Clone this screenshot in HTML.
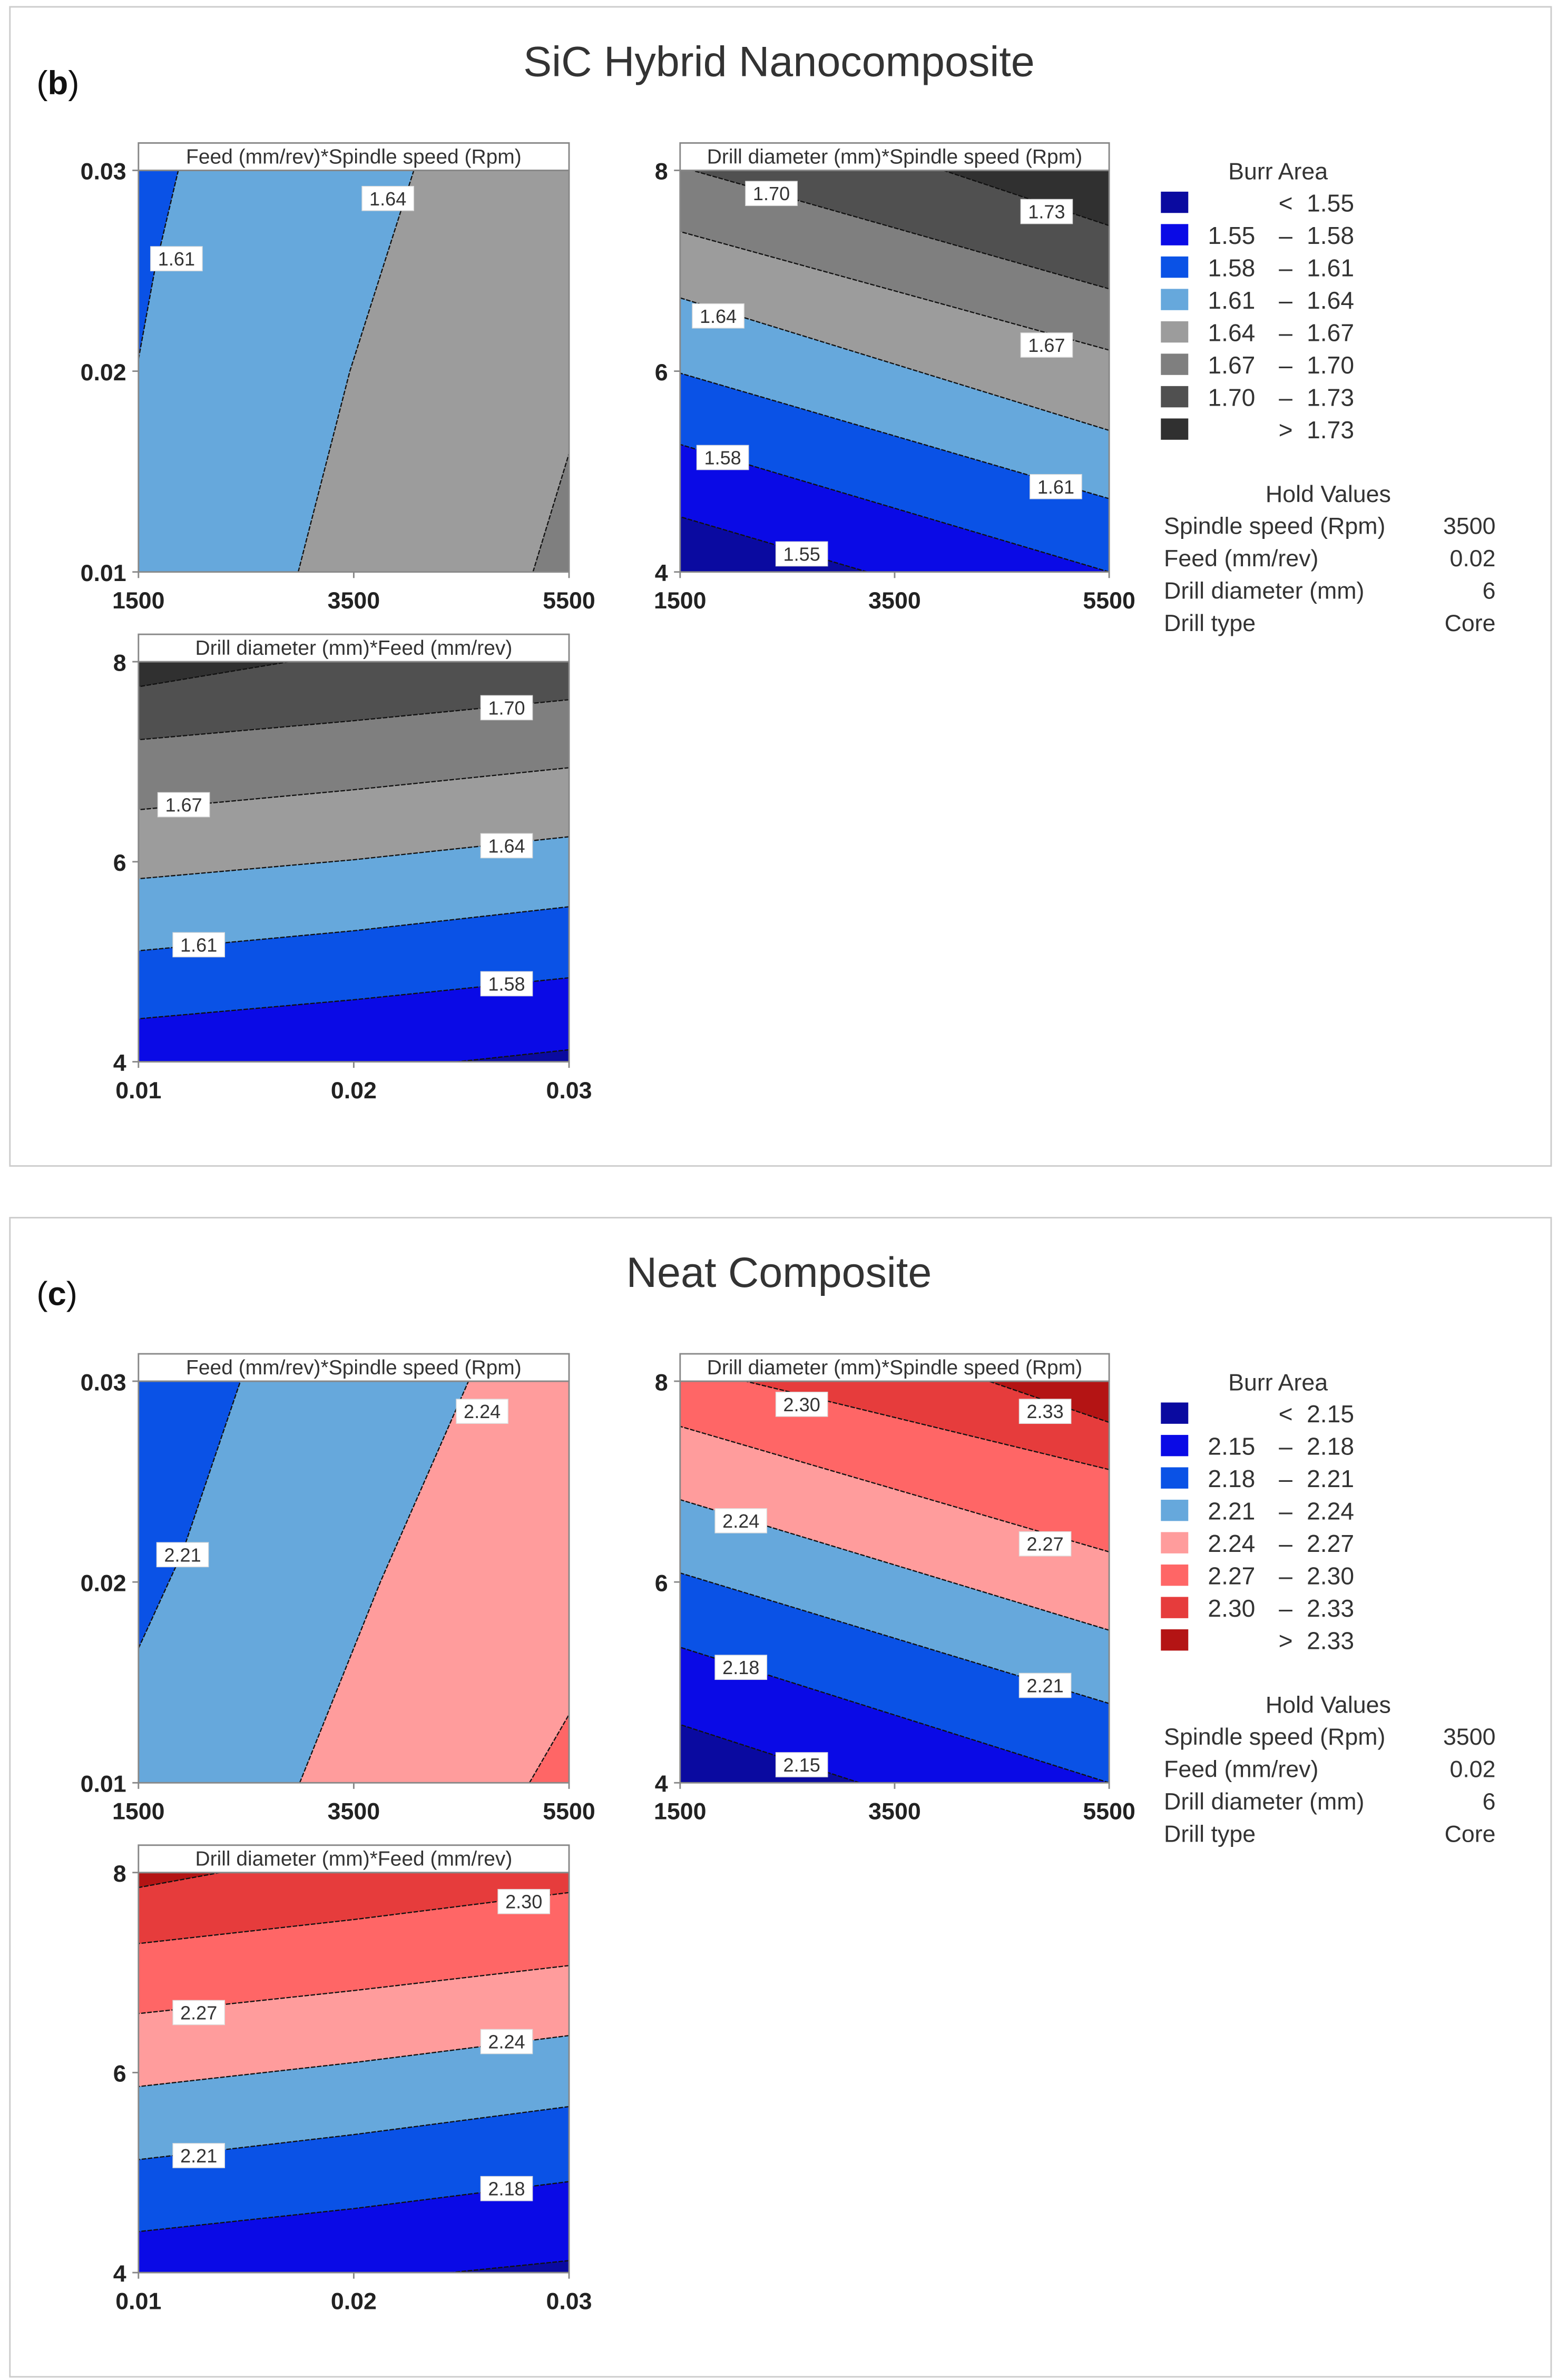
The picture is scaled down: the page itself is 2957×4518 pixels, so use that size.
<!DOCTYPE html>
<html><head><meta charset="utf-8"><style>
html,body{margin:0;padding:0;background:#fff;}
svg{display:block;}
text{font-family:"Liberation Sans","DejaVu Sans",sans-serif;}
</style></head><body>
<svg id="root" xmlns="http://www.w3.org/2000/svg" width="2957" height="4518" viewBox="0 0 1024 1564.6"></svg>
<script>
// ---- data ----
const levelsB = [1.55,1.58,1.61,1.64,1.67,1.70,1.73];
const levelsC = [2.15,2.18,2.21,2.24,2.27,2.30,2.33];
const colorsB = ['#0a0aa0','#0a0ae6','#0a52e6','#66a8dc','#9c9c9c','#7f7f7f','#505050','#303030'];
const colorsC = ['#0a0aa0','#0a0ae6','#0a52e6','#66a8dc','#ff9c9c','#ff6666','#e63c3c','#b41414'];
const spindleTicks = [1500,3500,5500];
const feedTicks = [0.01,0.02,0.03];
const diamTicks = [4,6,8];
// contour lines: level index, xs, ys (ordered so higher side is on the right-hand side)
const linesB1 = [
 {lv:2, xs:[1500,1650,1870], ys:[0.0206,0.025,0.03]},
 {lv:3, xs:[2984,3464,4058], ys:[0.01,0.02,0.03]},
 {lv:4, xs:[5165,5500], ys:[0.01,0.0159]}];
const linesB2 = [
 {lv:0, xs:[3245,1500], ys:[4.0,4.55]},
 {lv:1, xs:[5500,1500], ys:[4.0,5.27]},
 {lv:2, xs:[5500,1500], ys:[4.73,5.98]},
 {lv:3, xs:[5500,1500], ys:[5.41,6.73]},
 {lv:4, xs:[5500,1500], ys:[6.21,7.39]},
 {lv:5, xs:[5500,1613], ys:[6.82,8.0]},
 {lv:6, xs:[5500,3955], ys:[7.45,8.0]}];
const linesB3 = [
 {lv:0, xs:[0.03,0.0248], ys:[4.12,4.0]},
 {lv:1, xs:[0.03,0.02,0.01], ys:[4.84,4.62,4.43]},
 {lv:2, xs:[0.03,0.02,0.01], ys:[5.55,5.31,5.11]},
 {lv:3, xs:[0.03,0.02,0.01], ys:[6.25,6.02,5.83]},
 {lv:4, xs:[0.03,0.02,0.01], ys:[6.94,6.72,6.52]},
 {lv:5, xs:[0.03,0.02,0.01], ys:[7.62,7.41,7.22]},
 {lv:6, xs:[0.017,0.01], ys:[8.0,7.75]}];
const linesC1 = [
 {lv:2, xs:[1500,1910,2447], ys:[0.0167,0.0215,0.03]},
 {lv:3, xs:[2998,3747,4566], ys:[0.01,0.02,0.03]},
 {lv:4, xs:[5132,5500], ys:[0.01,0.0134]}];
const linesC2 = [
 {lv:0, xs:[3173,1500], ys:[4.0,4.58]},
 {lv:1, xs:[5500,1500], ys:[4.0,5.35]},
 {lv:2, xs:[5500,1500], ys:[4.79,6.09]},
 {lv:3, xs:[5500,1500], ys:[5.52,6.82]},
 {lv:4, xs:[5500,1500], ys:[6.30,7.55]},
 {lv:5, xs:[5500,2110], ys:[7.12,8.0]},
 {lv:6, xs:[5500,4378], ys:[7.59,8.0]}];
const linesC3 = [
 {lv:0, xs:[0.03,0.0245], ys:[4.12,4.0]},
 {lv:1, xs:[0.03,0.02,0.01], ys:[4.91,4.64,4.41]},
 {lv:2, xs:[0.03,0.02,0.01], ys:[5.66,5.38,5.13]},
 {lv:3, xs:[0.03,0.02,0.01], ys:[6.37,6.10,5.86]},
 {lv:4, xs:[0.03,0.02,0.01], ys:[7.07,6.82,6.59]},
 {lv:5, xs:[0.03,0.02,0.01], ys:[7.80,7.53,7.29]},
 {lv:6, xs:[0.0138,0.01], ys:[8.0,7.85]}];
const labelsB1 = [{t:'1.61',x:1853,y:0.0256},{t:'1.64',x:3817,y:0.0286}];
const labelsB2 = [{t:'1.70',x:2351,y:7.77},{t:'1.73',x:4917,y:7.59},{t:'1.64',x:1855,y:6.55},{t:'1.67',x:4917,y:6.26},{t:'1.58',x:1897,y:5.14},{t:'1.61',x:5003,y:4.85},{t:'1.55',x:2634,y:4.18}];
const labelsB3 = [{t:'1.70',x:0.0271,y:7.54},{t:'1.67',x:0.0121,y:6.57},{t:'1.64',x:0.0271,y:6.16},{t:'1.61',x:0.0128,y:5.17},{t:'1.58',x:0.0271,y:4.78}];
const labelsC1 = [{t:'2.21',x:1910,y:0.02136},{t:'2.24',x:4693,y:0.0285}];
const labelsC2 = [{t:'2.30',x:2634,y:7.77},{t:'2.33',x:4903,y:7.70},{t:'2.24',x:2067,y:6.61},{t:'2.27',x:4903,y:6.38},{t:'2.18',x:2067,y:5.15},{t:'2.21',x:4903,y:4.97},{t:'2.15',x:2634,y:4.18}];
const labelsC3 = [{t:'2.30',x:0.0279,y:7.71},{t:'2.27',x:0.0128,y:6.60},{t:'2.24',x:0.0271,y:6.31},{t:'2.21',x:0.0128,y:5.17},{t:'2.18',x:0.0271,y:4.84}];
const holdNames = ['Spindle speed (Rpm)','Feed (mm/rev)','Drill diameter (mm)','Drill type'];
const holdVals = ['3500','0.02','6','Core'];

// ---- drawing ----
const NS='http://www.w3.org/2000/svg';
const root=document.getElementById('root');
function mk(tag,attrs,parent,txt){const e=document.createElementNS(NS,tag);for(const k in attrs)e.setAttribute(k,attrs[k]);if(txt!==undefined)e.textContent=txt;(parent||root).appendChild(e);return e;}

function plot(g,px,py,W,H,xd,yd,xt,yt,lines,labels,colors,title,name){
  const sx=v=>px+(v-xd[0])/(xd[1]-xd[0])*W;
  const sy=v=>py+H-(v-yd[0])/(yd[1]-yd[0])*H;
  const pg=mk('g',{},g);
  
  
  const base=mk('rect',{x:px,y:py,width:W,height:H,fill:colors[lines[0].lv]},pg);
  
  
  const per=(x,y)=>{const e=0.01;
    if(Math.abs(y-py)<e) return x-px;
    if(Math.abs(x-(px+W))<e) return W+(y-py);
    if(Math.abs(y-(py+H))<e) return W+H+(px+W-x);
    return 2*W+H+(py+H-y);};
  const corners=[[W,px+W,py],[W+H,px+W,py+H],[2*W+H,px,py+H],[0,px,py]];
  const P=2*W+2*H;
  lines.forEach(L=>{
    const pts=L.xs.map((x,i)=>[sx(x),sy(L.ys[i])]);
    const tE=per(...pts[pts.length-1]), tS=per(...pts[0]);
    let span=(tS-tE+P)%P;
    const cs=corners.map(c=>[(c[0]-tE+P)%P,c[1],c[2]]).filter(c=>c[0]>0&&c[0]<span).sort((a,b)=>a[0]-b[0]);
    const poly=pts.concat(cs.map(c=>[c[1],c[2]]));
    const r=mk('polygon',{points:poly.map(p=>p.join(',')).join(' '),fill:colors[L.lv+1]},pg);
    
    
  });
  lines.forEach(L=>{
    const l=mk('polyline',{points:L.xs.map((x,i)=>sx(x)+','+sy(L.ys[i])).join(' '),fill:'none',stroke:'#111','stroke-width':0.8,'stroke-dasharray':'3,1'},pg);
    
    
  });
  labels.forEach(b=>{
    const cx=sx(b.x),cy=sy(b.y);
    const r=mk('rect',{x:cx-17,y:cy-8,width:34,height:16,fill:'#fff',stroke:'#ddd','stroke-width':0.5},pg);
    
    
    const t=mk('text',{x:cx,y:cy+4.5,'font-size':12.5,'text-anchor':'middle',fill:'#333'},pg,b.t);
    
    
  });
  const fr=mk('rect',{x:px,y:py,width:W,height:H,fill:'none',stroke:'#888','stroke-width':1},pg);
  
  
  const hb=mk('rect',{x:px,y:py-18,width:W,height:18,fill:'#fff',stroke:'#888','stroke-width':1},pg);
  
  
  const ht=mk('text',{x:px+W/2,y:py-4.5,'font-size':13.5,'text-anchor':'middle',fill:'#333'},pg,title);
  
  
  xt.forEach(v=>{
    mk('line',{x1:sx(v),x2:sx(v),y1:py+H,y2:py+H+4,stroke:'#888'},pg);
    const t=mk('text',{x:sx(v),y:py+H+24,'font-size':15.5,'font-weight':'bold','text-anchor':'middle',fill:'#222'},pg,String(v));
    
    
  });
  yt.forEach(v=>{
    mk('line',{x1:px-4,x2:px,y1:sy(v),y2:sy(v),stroke:'#888'},pg);
    const t=mk('text',{x:px-8,y:sy(v)+6,'font-size':15.5,'font-weight':'bold','text-anchor':'end',fill:'#222'},pg,String(v));
    
    
  });
}

function legend(g,x,y,levels,colors){
  const lg=mk('g',{},g);
  
  
  const tt=mk('text',{x:x+77,y:y+5,'font-size':15.5,'text-anchor':'middle',fill:'#333'},lg,'Burr Area');
  
  
  colors.forEach((c,i)=>{
    const ry=y+13+i*21.3;
    const s=mk('rect',{x:x,y:ry,width:18,height:14,fill:c},lg);
    
    
    let lo='',mid='',hi='';
    if(i===0){mid='<';hi=levels[0].toFixed(2);}
    else if(i===colors.length-1){mid='>';hi=levels[levels.length-1].toFixed(2);}
    else {lo=levels[i-1].toFixed(2);mid='–';hi=levels[i].toFixed(2);}
    const e=mk('text',{'font-size':16,fill:'#333',y:ry+13},lg);
    
    
    mk('tspan',{x:x+62,'text-anchor':'end'},e,lo);
    mk('tspan',{x:x+82,'text-anchor':'middle'},e,mid);
    mk('tspan',{x:x+127,'text-anchor':'end'},e,hi);
  });
  const hy=y+217;
  const ht=mk('text',{x:x+110,y:hy,'font-size':15.5,'text-anchor':'middle',fill:'#333'},lg,'Hold Values');
  
  
  holdNames.forEach((n,i)=>{
    const t=mk('text',{x:x+2,y:hy+21+i*21.3,'font-size':15.5,fill:'#333'},lg,n);
    
    
    const v=mk('text',{x:x+220,y:hy+21+i*21.3,'font-size':15.5,fill:'#333','text-anchor':'end'},lg,holdVals[i]);
    
    
  });
}

function panel(oy,tag,title,lv,cols,l1,l2,l3,b1,b2,b3,name){
  const g=mk('g',{},root);
  
  
  const fr=mk('rect',{x:6.5,y:oy+4.5,width:1013,height:762,fill:'#fff',stroke:'#ccc','stroke-width':1},g);
  
  
  const tg=mk('text',{x:24,y:oy+62,'font-size':22,'font-family':'"Liberation Serif",serif',fill:'#111'},g);
  
  
  mk('tspan',{},tg,'(');mk('tspan',{'font-weight':'bold'},tg,tag);mk('tspan',{},tg,')');
  const t=mk('text',{x:512,y:oy+50,'font-size':28,'text-anchor':'middle',fill:'#333'},g,title);
  
  
  plot(g,91,oy+112,283,264,[1500,5500],[0.01,0.03],spindleTicks,feedTicks,l1,b1,cols,'Feed (mm/rev)*Spindle speed (Rpm)','feed-spindle-contour');
  plot(g,447,oy+112,282,264,[1500,5500],[4,8],spindleTicks,diamTicks,l2,b2,cols,'Drill diameter (mm)*Spindle speed (Rpm)','diameter-spindle-contour');
  plot(g,91,oy+435,283,263,[0.01,0.03],[4,8],feedTicks,diamTicks,l3,b3,cols,'Drill diameter (mm)*Feed (mm/rev)','diameter-feed-contour');
  legend(g,763,oy+113,lv,cols);
}
panel(0,'b','SiC Hybrid Nanocomposite',levelsB,colorsB,linesB1,linesB2,linesB3,labelsB1,labelsB2,labelsB3,'panel-b');
panel(796,'c','Neat Composite',levelsC,colorsC,linesC1,linesC2,linesC3,labelsC1,labelsC2,labelsC3,'panel-c');
</script>
</body></html>
